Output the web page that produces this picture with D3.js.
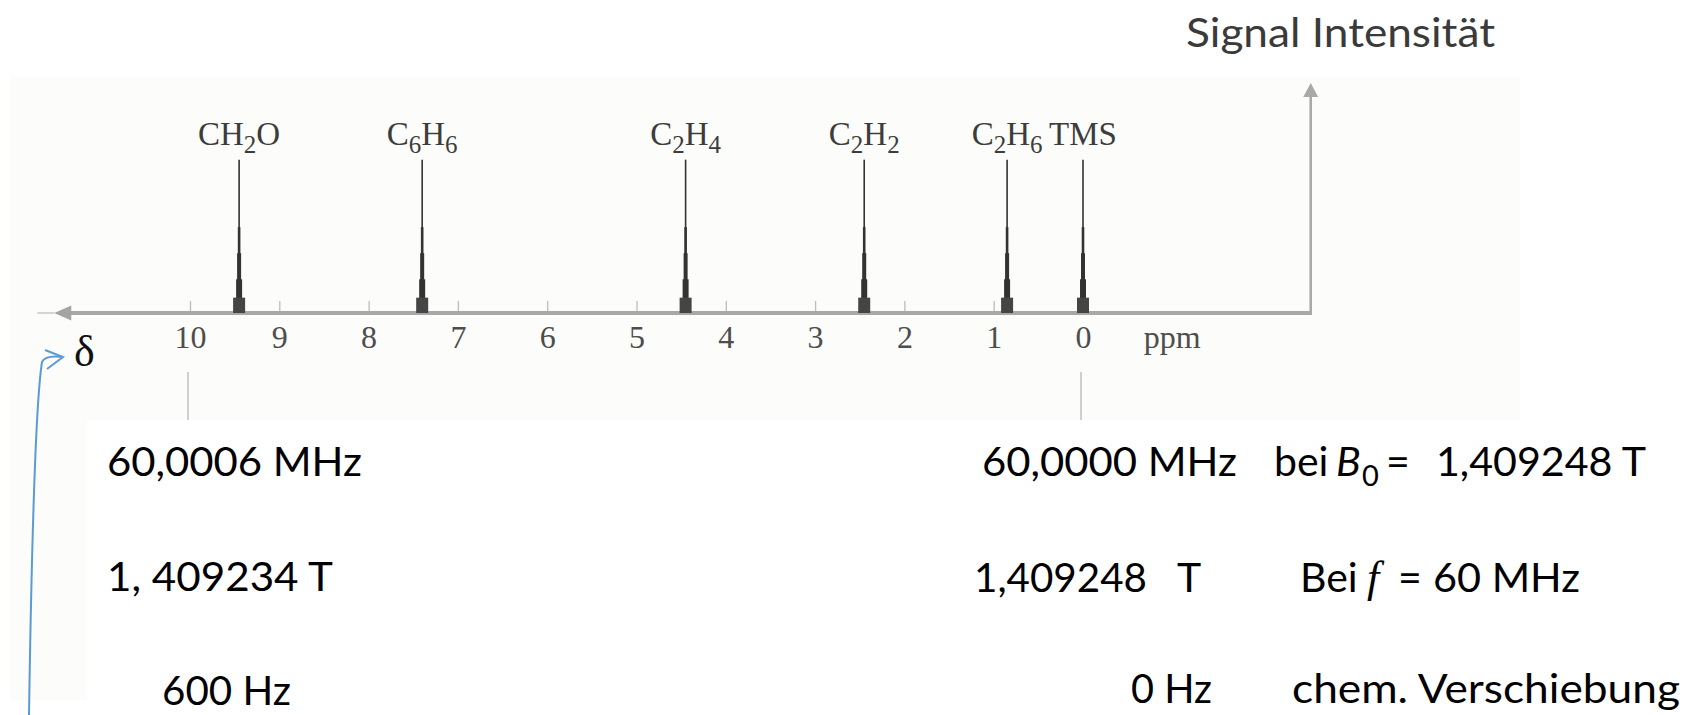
<!DOCTYPE html>
<html><head><meta charset="utf-8">
<script src="https://cdn.jsdelivr.net/npm/d3@7"></script>
<style>html,body{margin:0;padding:0;background:#fff;} svg{display:block}</style>
</head><body>
<svg id="chart" width="1690" height="715"></svg>
<script>
// ---------- data ----------
const compounds   = ["CH2O", "C6H6", "C2H4", "C2H2", "C2H6", "TMS"];
const shifts      = [9.45, 7.4, 4.45, 2.45, 0.85, 0];     // ppm
const intensities = [1, 1, 1, 1, 1, 1];                   // relative signal
const ppmTicks    = [10, 9, 8, 7, 6, 5, 4, 3, 2, 1, 0];
const refMarks    = [10, 0];                              // guide marks below axis
const axisUnit    = "ppm";
const yTitle      = "Signal Intensität";
const deltaSym    = "δ";
const leftNotes   = ["60,0006 MHz", "1, 409234 T", "600 Hz"];
const rightRow1   = ["60,0000 MHz", "bei", "B", "0", "=", "1,409248 T"];
const rightRow2   = ["1,409248", "T", "Bei", "f", "=", "60 MHz"];
const rightRow3   = ["0 Hz", "chem. Verschiebung"];

// ---------- layout ----------
const svg = d3.select("#chart");
const x = d3.scaleLinear().domain([10, 0]).range([190, 1083]);
const y = d3.scaleLinear().domain([0, 1.5]).range([313, 83]);
const axisMin = 11.52, axisMax = -2.55;   // ppm extent of drawn axis line
const sans = "Lato, 'Open Sans', sans-serif";
const serif = "'Liberation Serif', 'DejaVu Serif', serif";

// faint scanned-figure background
svg.append("rect").attr("x", 10).attr("y", 77).attr("width", 1510).attr("height", 343).attr("fill", "#fcfcfa");
svg.append("rect").attr("x", 10).attr("y", 420).attr("width", 77).attr("height", 280).attr("fill", "#fcfcfa");

// horizontal axis ticks + labels
const ax = d3.axisBottom(x).tickValues(ppmTicks).tickSize(-12).tickPadding(12).tickFormat(d3.format("d"));
const gAx = svg.append("g").attr("transform", `translate(0,${y(0)})`).call(ax);
gAx.select(".domain").remove();
gAx.selectAll(".tick line").attr("stroke", "#bdbdbd").attr("stroke-width", 1.3);
gAx.selectAll(".tick text").attr("font-family", serif).attr("font-size", 32).attr("fill", "#4d4d4d");

// unit label
svg.append("text").attr("x", x(-1.0)).attr("y", y(0) + 35).attr("text-anchor", "middle")
  .attr("font-family", serif).attr("font-size", 32).attr("fill", "#4d4d4d").text(axisUnit);

// axis line with left arrow
const x0 = x(axisMin), x1 = x(axisMax), yb = y(0);
svg.append("line").attr("x1", x0 - 17).attr("x2", x0).attr("y1", yb).attr("y2", yb)
  .attr("stroke", "#d4d4d4").attr("stroke-width", 2);
svg.append("line").attr("x1", x0 + 14).attr("x2", x1 + 1).attr("y1", yb).attr("y2", yb)
  .attr("stroke", "#a8a8a8").attr("stroke-width", 4);
svg.append("path").attr("d", `M${x0},${yb} L${x0 + 17},${yb - 7.5} L${x0 + 17},${yb + 7.5} Z`).attr("fill", "#a4a4a4");

// vertical intensity axis
const yTop = y(1.5);
svg.append("line").attr("x1", x1).attr("x2", x1).attr("y1", yb + 2).attr("y2", yTop + 13)
  .attr("stroke", "#aaa8a9").attr("stroke-width", 2.6);
svg.append("path").attr("d", `M${x1},${yTop} L${x1 - 7.5},${yTop + 14} L${x1 + 7.5},${yTop + 14} Z`).attr("fill", "#aaa8a9");
svg.append("text").attr("x", 1186).attr("y", 47).attr("font-family", sans).attr("font-size", 41)
  .attr("fill", "#3a3a3a").attr("textLength", 309).attr("lengthAdjust", "spacingAndGlyphs").text(yTitle);

// reference guide marks below axis
svg.selectAll("line.ref").data(refMarks).join("line").attr("class", "ref")
  .attr("x1", d => x(d) - 2).attr("x2", d => x(d) - 2).attr("y1", yb + 59).attr("y2", yb + 107)
  .attr("stroke", "#cfcfcf").attr("stroke-width", 2);

// peaks
const peaks = compounds.map((c, i) => ({ name: c, ppm: shifts[i], v: intensities[i] }));
const steps = [ { w: 2.6, f: 0.56 }, { w: 4, f: 0.39 }, { w: 6, f: 0.22 }, { w: 12, f: 0.10 } ];
const gp = svg.selectAll("g.peak").data(peaks).join("g").attr("class", "peak");
gp.append("line").attr("x1", d => x(d.ppm)).attr("x2", d => x(d.ppm))
  .attr("y1", y(0)).attr("y2", d => y(d.v)).attr("stroke", "#333").attr("stroke-width", 1.6);
steps.forEach(s => {
  gp.append("rect").attr("x", d => x(d.ppm) - s.w / 2).attr("width", s.w)
    .attr("y", d => y(d.v * s.f)).attr("height", d => y(0) - y(d.v * s.f))
    .attr("fill", s.w > 10 ? "#454545" : "#333");
});
// peak labels with subscripts
gp.each(function (d) {
  const t = d3.select(this).append("text").attr("x", x(d.ppm)).attr("y", y(d.v) - 15)
    .attr("text-anchor", "middle").attr("font-family", serif).attr("font-size", 33).attr("fill", "#3c3c3c");
  const parts = d.name.match(/[A-Za-z]+|\d+/g);
  let sub = false;
  parts.forEach(p => {
    const isNum = /\d/.test(p);
    const ts = t.append("tspan").text(p);
    if (isNum && !sub) { ts.attr("dy", 8).attr("font-size", 25); sub = true; }
    else if (isNum) { ts.attr("font-size", 25); }
    else if (sub) { ts.attr("dy", -8); sub = false; }
  });
});

// delta symbol + blue curved arrow
svg.append("text").attr("x", 74).attr("y", 366).attr("font-family", serif).attr("font-size", 44)
  .attr("fill", "#111").text(deltaSym);
svg.append("path").attr("d", "M29,715 C32,520 36,400 42,362 Q45,355 63,357")
  .attr("fill", "none").attr("stroke", "#5b9bd5").attr("stroke-width", 2);
svg.append("path").attr("d", "M45,350 L63,357 L47,369")
  .attr("fill", "none").attr("stroke", "#5b9bd5").attr("stroke-width", 2);

// annotation texts
function txt(s, px, py, opts = {}) {
  const t = svg.append("text").attr("x", px).attr("y", py)
    .attr("font-family", opts.family || sans).attr("font-size", opts.size || 41)
    .attr("fill", "#000").text(s);
  if (opts.italic) t.attr("font-style", "italic");
  if (opts.len) t.attr("textLength", opts.len).attr("lengthAdjust", "spacingAndGlyphs");
  return t;
}
// left column
txt(leftNotes[0], 107, 476, { len: 255 });
txt(leftNotes[1], 107, 591, { len: 226 });
txt(leftNotes[2], 162, 705, { len: 129 });
// right row 1
txt(rightRow1[0], 982, 476, { len: 255 });
txt(rightRow1[1], 1274, 476);
txt(rightRow1[2], 1336, 476, { italic: true });
txt(rightRow1[3], 1362, 486, { size: 29 });
txt(rightRow1[4], 1386, 476);
txt(rightRow1[5], 1436, 476, { len: 210 });
// right row 2
txt(rightRow2[0], 974, 592, { len: 173 });
txt(rightRow2[1], 1177, 592);
txt(rightRow2[2], 1300, 592);
txt(rightRow2[3], 1367, 592, { family: serif, italic: true, size: 44 });
txt(rightRow2[4], 1398, 592);
txt(rightRow2[5], 1433, 592, { len: 147 });
// right row 3
txt(rightRow3[0], 1131, 703, { len: 81 });
txt(rightRow3[1], 1292, 703, { len: 388 });
</script>
</body></html>
